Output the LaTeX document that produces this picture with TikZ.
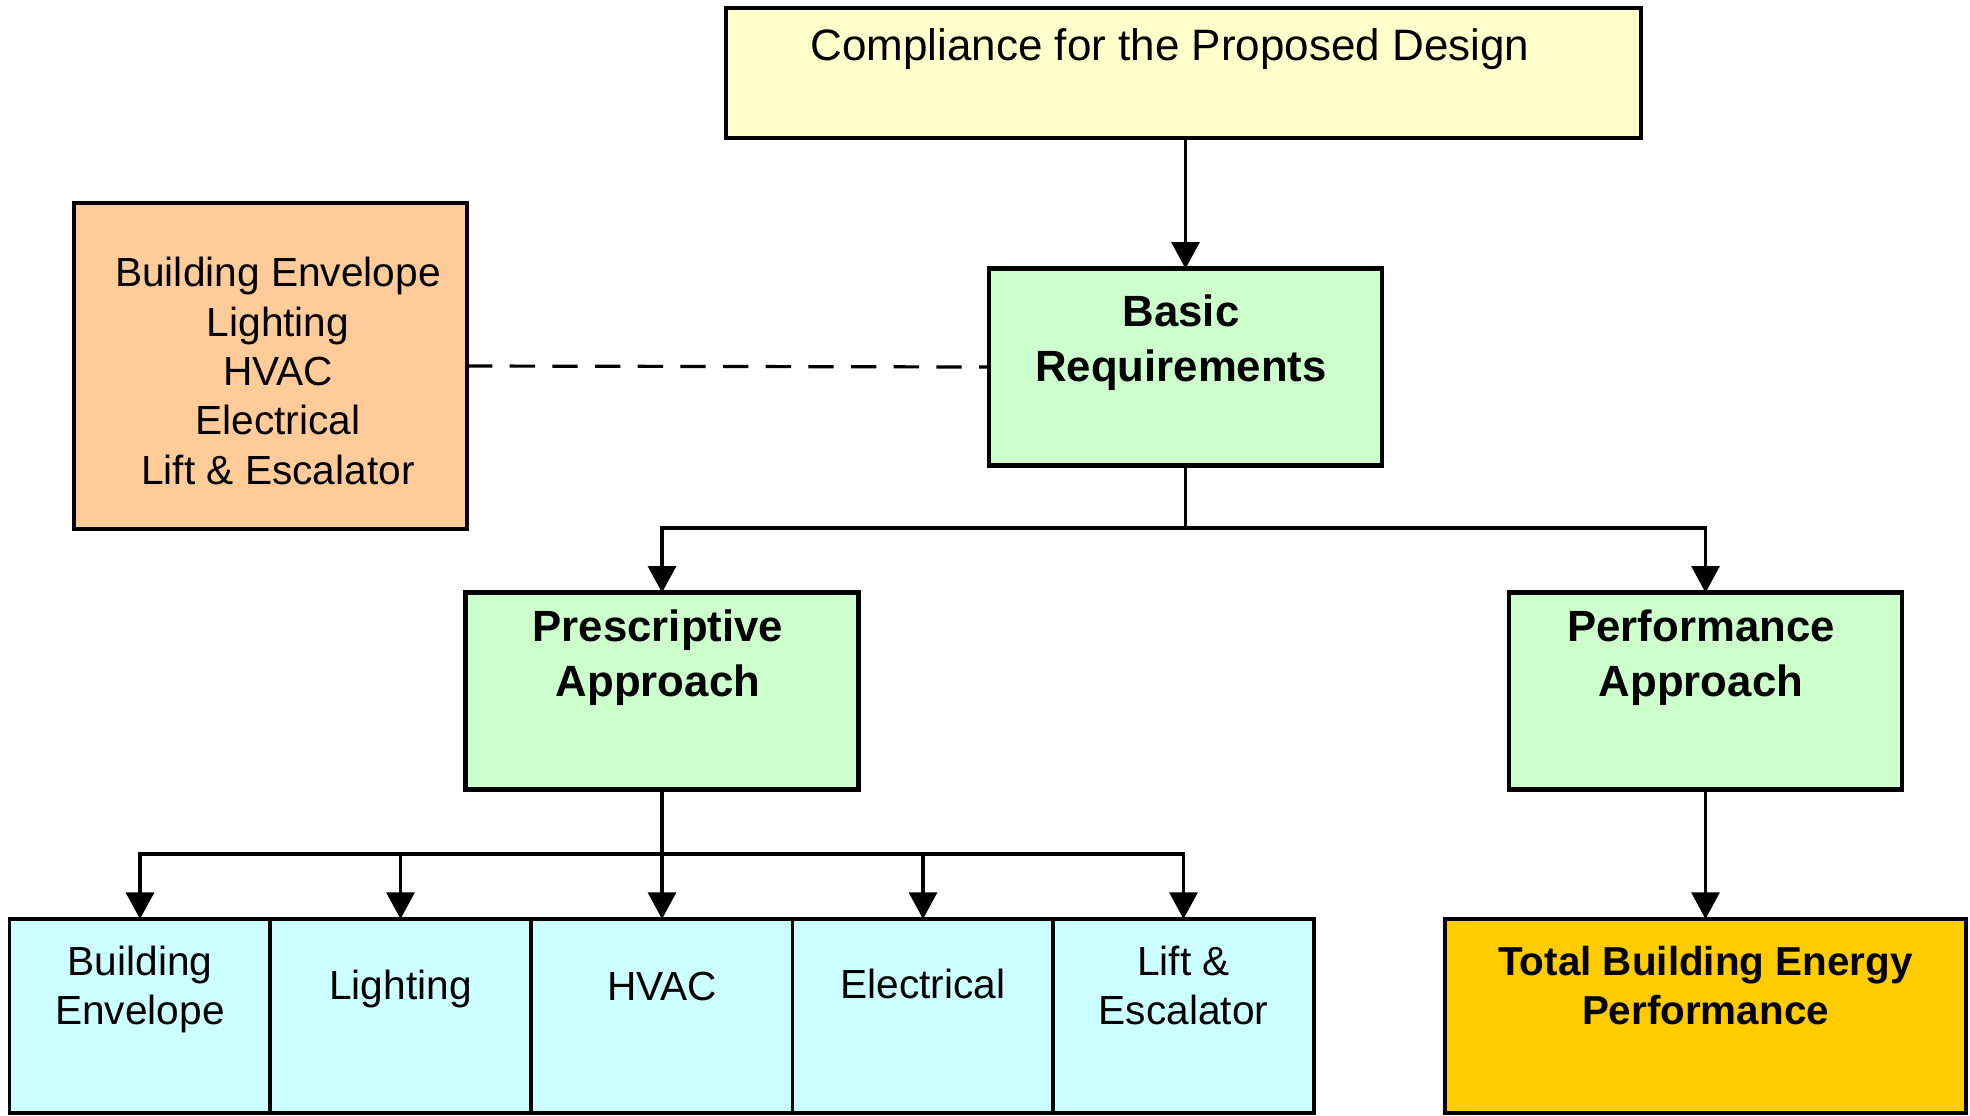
\documentclass[tikz,border=0pt]{standalone}
\usepackage{fontspec}
\setmainfont{Liberation Sans}
\usetikzlibrary{arrows.meta}
\definecolor{paleyellow}{HTML}{FFFFCC}
\definecolor{palegreen}{HTML}{CCFFCC}
\definecolor{paleorange}{HTML}{FFCC99}
\definecolor{palecyan}{HTML}{CCFFFF}
\definecolor{gold}{HTML}{FFCC00}
\begin{document}
\begin{tikzpicture}[x=0.75pt,y=0.75pt,yscale=-1,xscale=1,
	box/.style={draw,outer sep=0pt,inner sep=0pt,line width=2.6pt},
	mainbox/.style={box,line width=3.4pt,fill=palegreen,minimum width=294.5pt,minimum height=147.5pt},
	partbox/.style={box,fill=palecyan,minimum width=195.75pt,minimum height=145.5pt},
	arr/.style={line width=2.4pt,-{Triangle[length=20pt,width=21pt]}},
	txt/.style={inner sep=0pt,align=center,font=\fontsize{30.5}{37}\selectfont},
	boldtxt/.style={inner sep=0pt,align=center,font=\fontsize{32.8}{41.5}\selectfont\bfseries}]
				\useasboundingbox (0,0) rectangle (1970,1115);
				% boxes
				\node [box,fill=paleyellow,minimum width=686.25pt,minimum height=97.5pt] (design) at (1183.5,73) {};
				\node [mainbox] (basic) at (1185.5,367) {};
				\node [box,fill=paleorange,minimum width=294.75pt,minimum height=244.5pt] (items) at (270.5,366) {};
				\node [mainbox] (prescriptive) at (662,691) {};
				\node [mainbox] (performance) at (1705.5,691) {};
				\node [partbox] (envelope) at (140,1016) {};
				\node [partbox] (lighting) at (400.5,1016) {};
				\node [partbox] (hvac) at (662,1016) {};
				\node [partbox] (electrical) at (923,1016) {};
				\node [partbox] (lift) at (1183.5,1016) {};
				\node [box,fill=gold,minimum width=390.75pt,minimum height=145.5pt] (total) at (1705.5,1016) {};
				% texts
				\node [txt,font=\fontsize{33}{40}\selectfont] (t-design) at (1170,49) {Compliance for the Proposed Design};
				\node [boldtxt] (t-basic) at (1181,343) {Basic\\Requirements};
				\node [txt] (t-items) at (278,371) {Building Envelope\\Lighting\\HVAC\\Electrical\\Lift \& Escalator};
				\node [boldtxt] (t-prescriptive) at (658,658) {Prescriptive\\Approach};
				\node [boldtxt] (t-performance) at (1701,658) {Performance\\Approach};
				\node [txt] (t-envelope) at (140,989.5) {Building\\Envelope};
				\node [txt] (t-lighting) at (400.5,989) {Lighting};
				\node [txt] (t-hvac) at (662,986) {HVAC};
				\node [txt] (t-electrical) at (923,984) {Electrical};
				\node [txt] (t-lift) at (1183.5,985.5) {Lift \&\\Escalator};
				\node [boldtxt,font=\fontsize{30.3}{37}\selectfont\bfseries] (t-total) at (1705.5,985.5) {Total Building Energy\\Performance};
				% connectors
				\coordinate (split1) at (1185.5,528);
				\coordinate (split2) at (662,854);
				\draw [arr] (design.south -| basic.north) -- (basic.north);
				\draw [line width=2.4pt,dash pattern={on 19pt off 13pt}] (items.east) -- (basic.west);
				\draw [line width=2.4pt] (basic.south) -- (split1);
				\draw [arr] (split1) -| (prescriptive.north);
				\draw [arr] (split1) -| (performance.north);
				\draw [line width=2.4pt] (prescriptive.south) -- (split2);
				\foreach \part in {envelope,lighting,hvac,electrical,lift}
					\draw [arr] (split2) -| (\part.north);
				\draw [arr] (performance.south) -- (total.north);
\end{tikzpicture}
\end{document}
